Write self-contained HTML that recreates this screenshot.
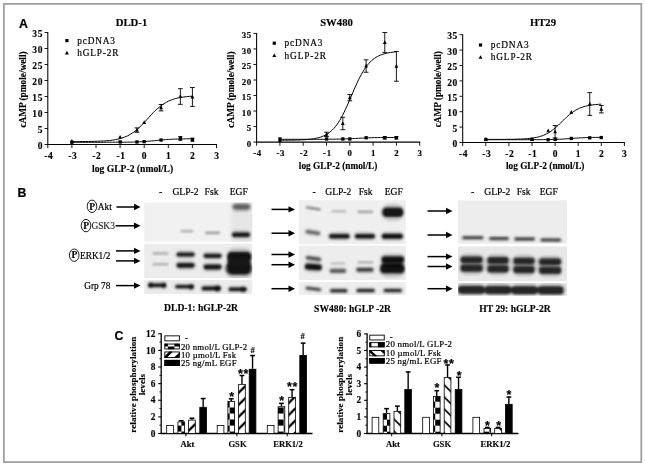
<!DOCTYPE html>
<html lang="en"><head><meta charset="utf-8"><title>Figure</title>
<style>html,body{margin:0;padding:0;background:#fff}svg{display:block}text{font-family:"Liberation Serif",serif;fill:#000}.r{stroke:#000;stroke-width:.2px}.b{font-weight:bold;stroke:#000;stroke-width:.15px}.bs{font-weight:bold;font-family:"Liberation Sans",sans-serif;stroke:#000;stroke-width:.2px}.rs{font-family:"Liberation Sans",sans-serif}</style></head><body>
<svg width="645" height="466" viewBox="0 0 645 466">
<defs><filter id="b1" x="-20%" y="-50%" width="140%" height="200%"><feGaussianBlur stdDeviation="1.3 0.9"/></filter><filter id="b2" x="-20%" y="-50%" width="140%" height="200%"><feGaussianBlur stdDeviation="1.6 1.2"/></filter><filter id="bt" x="-5%" y="-5%" width="110%" height="110%"><feGaussianBlur stdDeviation="0.35"/></filter><pattern id="chkL" x="181.4" y="425.6" width="12.06" height="12.06" patternUnits="userSpaceOnUse"><rect width="12.06" height="12.06" fill="#fff"/><rect x="6.03" y="0" width="6.03" height="6.03" fill="#000"/><rect x="0" y="6.03" width="6.03" height="6.03" fill="#000"/></pattern><pattern id="chkR" x="387" y="419.7" width="12.06" height="12" patternUnits="userSpaceOnUse"><rect width="12.06" height="12" fill="#fff"/><rect x="0" y="0" width="6.03" height="6" fill="#000"/><rect x="6.03" y="6" width="6.03" height="6" fill="#000"/></pattern><pattern id="hatL" x="0" y="4.32" width="12.06" height="12.06" patternUnits="userSpaceOnUse"><rect width="12.06" height="12.06" fill="#fff"/><path d="M-3 3L3 -3M-3 15.06L15.06 -3M9.06 15.06L15.06 9.06" stroke="#000" stroke-width="2.3"/></pattern><pattern id="hatR" x="0" y="1.0" width="12.06" height="12.06" patternUnits="userSpaceOnUse"><rect width="12.06" height="12.06" fill="#fff"/><path d="M-3 9.06L3 15.06M-3 -3L15.06 15.06M9.06 -3L15.06 3" stroke="#000" stroke-width="1.7"/></pattern></defs>
<rect width="645" height="466" fill="#fff"/>
<rect x="3.9" y="3.9" width="637.4" height="458.2" fill="none" stroke="#9b9b9b" stroke-width="1.7"/>
<g filter="url(#bt)">
<text class="bs" x="19.0" y="27.8" font-size="12.3">A</text>
<text class="bs" x="17.6" y="196.7" font-size="12.3">B</text>
<text class="bs" x="114.6" y="339.5" font-size="12.3">C</text>
<path d="M47.80 32.00L47.80 145.00" stroke="#000" stroke-width="1.05" fill="none"/>
<path d="M47.30 144.50L217.00 144.50" stroke="#000" stroke-width="1.05" fill="none"/>
<path d="M44.60 144.50L47.80 144.50" stroke="#000" stroke-width="0.9" fill="none"/>
<text class="b" x="43.0" y="149.2" font-size="9.5" text-anchor="end" letter-spacing="0.6">0</text>
<path d="M44.60 128.50L47.80 128.50" stroke="#000" stroke-width="0.9" fill="none"/>
<text class="b" x="43.0" y="133.2" font-size="9.5" text-anchor="end" letter-spacing="0.6">5</text>
<path d="M44.60 112.50L47.80 112.50" stroke="#000" stroke-width="0.9" fill="none"/>
<text class="b" x="43.0" y="117.2" font-size="9.5" text-anchor="end" letter-spacing="0.6">10</text>
<path d="M44.60 96.50L47.80 96.50" stroke="#000" stroke-width="0.9" fill="none"/>
<text class="b" x="43.0" y="101.2" font-size="9.5" text-anchor="end" letter-spacing="0.6">15</text>
<path d="M44.60 80.50L47.80 80.50" stroke="#000" stroke-width="0.9" fill="none"/>
<text class="b" x="43.0" y="85.2" font-size="9.5" text-anchor="end" letter-spacing="0.6">20</text>
<path d="M44.60 64.50L47.80 64.50" stroke="#000" stroke-width="0.9" fill="none"/>
<text class="b" x="43.0" y="69.2" font-size="9.5" text-anchor="end" letter-spacing="0.6">25</text>
<path d="M44.60 48.50L47.80 48.50" stroke="#000" stroke-width="0.9" fill="none"/>
<text class="b" x="43.0" y="53.2" font-size="9.5" text-anchor="end" letter-spacing="0.6">30</text>
<path d="M44.60 32.50L47.80 32.50" stroke="#000" stroke-width="0.9" fill="none"/>
<text class="b" x="43.0" y="37.2" font-size="9.5" text-anchor="end" letter-spacing="0.6">35</text>
<path d="M47.80 144.50L47.80 148.10" stroke="#000" stroke-width="0.9" fill="none"/>
<text class="b" x="48.7" y="159.1" font-size="9.5" text-anchor="middle" letter-spacing="0.6">-4</text>
<path d="M71.90 144.50L71.90 148.10" stroke="#000" stroke-width="0.9" fill="none"/>
<text class="b" x="72.8" y="159.1" font-size="9.5" text-anchor="middle" letter-spacing="0.6">-3</text>
<path d="M96.00 144.50L96.00 148.10" stroke="#000" stroke-width="0.9" fill="none"/>
<text class="b" x="96.9" y="159.1" font-size="9.5" text-anchor="middle" letter-spacing="0.6">-2</text>
<path d="M120.10 144.50L120.10 148.10" stroke="#000" stroke-width="0.9" fill="none"/>
<text class="b" x="121.0" y="159.1" font-size="9.5" text-anchor="middle" letter-spacing="0.6">-1</text>
<path d="M144.20 144.50L144.20 148.10" stroke="#000" stroke-width="0.9" fill="none"/>
<text class="b" x="144.2" y="159.1" font-size="9.5" text-anchor="middle">0</text>
<path d="M168.30 144.50L168.30 148.10" stroke="#000" stroke-width="0.9" fill="none"/>
<text class="b" x="168.3" y="159.1" font-size="9.5" text-anchor="middle">1</text>
<path d="M192.40 144.50L192.40 148.10" stroke="#000" stroke-width="0.9" fill="none"/>
<text class="b" x="192.4" y="159.1" font-size="9.5" text-anchor="middle">2</text>
<path d="M216.50 144.50L216.50 148.10" stroke="#000" stroke-width="0.9" fill="none"/>
<text class="b" x="216.5" y="159.1" font-size="9.5" text-anchor="middle">3</text>
<text class="b" x="131.5" y="26.3" font-size="10.7" text-anchor="middle">DLD-1</text>
<text class="b" font-size="9.3" text-anchor="middle" transform="translate(25.5,89.5) rotate(-90)">cAMP (pmole/well)</text>
<text class="b" x="132.6" y="171.5" font-size="9.65" text-anchor="middle">log GLP-2 (nmol/L)</text>
<rect x="65.3" y="39.0" width="3.2" height="3.2"/>
<text class="r" x="77.2" y="43.6" font-size="9.3" letter-spacing="0.85">pcDNA3</text>
<path d="M66.9 50.8l2 3.6h-4z"/>
<text class="r" x="77.2" y="56.0" font-size="9.3" letter-spacing="0.85">hGLP-2R</text>
<path d="M71.9 141.6L73.4 141.6L74.9 141.6L76.4 141.6L77.9 141.6L79.4 141.6L80.9 141.5L82.4 141.5L84.0 141.5L85.5 141.5L87.0 141.5L88.5 141.5L90.0 141.4L91.5 141.4L93.0 141.4L94.5 141.3L96.0 141.3L97.5 141.2L99.0 141.2L100.5 141.1L102.0 141.0L103.5 141.0L105.0 140.9L106.5 140.7L108.0 140.6L109.6 140.5L111.1 140.3L112.6 140.1L114.1 139.9L115.6 139.6L117.1 139.3L118.6 139.0L120.1 138.6L121.6 138.1L123.1 137.6L124.6 137.1L126.1 136.5L127.6 135.8L129.1 135.0L130.6 134.1L132.2 133.2L133.7 132.2L135.2 131.0L136.7 129.8L138.2 128.5L139.7 127.1L141.2 125.6L142.7 124.1L144.2 122.5L145.7 120.9L147.2 119.2L148.7 117.6L150.2 115.9L151.7 114.3L153.2 112.7L154.7 111.2L156.2 109.8L157.8 108.4L159.3 107.1L160.8 105.9L162.3 104.8L163.8 103.8L165.3 102.8L166.8 102.0L168.3 101.2L169.8 100.6L171.3 100.0L172.8 99.4L174.3 98.9L175.8 98.5L177.3 98.1L178.8 97.8L180.4 97.5L181.9 97.3L183.4 97.0L184.9 96.8L186.4 96.7L187.9 96.5L189.4 96.4L190.9 96.3L192.4 96.2" stroke="#000" stroke-width="1.0" fill="none"/>
<path d="M71.9 142.3L73.4 142.3L74.9 142.3L76.4 142.3L77.9 142.3L79.4 142.3L80.9 142.3L82.4 142.3L84.0 142.3L85.5 142.3L87.0 142.3L88.5 142.3L90.0 142.3L91.5 142.3L93.0 142.3L94.5 142.3L96.0 142.3L97.5 142.3L99.0 142.3L100.5 142.3L102.0 142.3L103.5 142.3L105.0 142.3L106.5 142.2L108.0 142.2L109.6 142.2L111.1 142.2L112.6 142.2L114.1 142.2L115.6 142.2L117.1 142.2L118.6 142.2L120.1 142.2L121.6 142.2L123.1 142.2L124.6 142.2L126.1 142.2L127.6 142.1L129.1 142.1L130.6 142.1L132.2 142.1L133.7 142.0L135.2 142.0L136.7 141.9L138.2 141.9L139.7 141.8L141.2 141.7L142.7 141.6L144.2 141.6L145.7 141.5L147.2 141.3L148.7 141.2L150.2 141.1L151.7 140.9L153.2 140.8L154.7 140.7L156.2 140.5L157.8 140.3L159.3 140.2L160.8 140.1L162.3 139.9L163.8 139.8L165.3 139.7L166.8 139.5L168.3 139.4L169.8 139.4L171.3 139.3L172.8 139.2L174.3 139.1L175.8 139.1L177.3 139.0L178.8 139.0L180.4 138.9L181.9 138.9L183.4 138.9L184.9 138.9L186.4 138.8L187.9 138.8L189.4 138.8L190.9 138.8L192.4 138.8" stroke="#000" stroke-width="1.0" fill="none"/>
<rect x="70.2" y="140.6" width="3.3" height="3.3"/>
<rect x="118.5" y="140.3" width="3.3" height="3.3"/>
<rect x="135.3" y="140.3" width="3.3" height="3.3"/>
<rect x="142.5" y="140.0" width="3.3" height="3.3"/>
<rect x="159.4" y="138.4" width="3.3" height="3.3"/>
<path d="M180.35 140.34L180.35 136.50" stroke="#000" stroke-width="0.9" fill="none"/>
<path d="M178.35 136.50L182.35 136.50" stroke="#000" stroke-width="0.9" fill="none"/>
<path d="M178.35 140.34L182.35 140.34" stroke="#000" stroke-width="0.9" fill="none"/>
<rect x="178.7" y="136.8" width="3.3" height="3.3"/>
<path d="M192.40 141.30L192.40 138.10" stroke="#000" stroke-width="0.9" fill="none"/>
<path d="M190.40 138.10L194.40 138.10" stroke="#000" stroke-width="0.9" fill="none"/>
<path d="M190.40 141.30L194.40 141.30" stroke="#000" stroke-width="0.9" fill="none"/>
<rect x="190.8" y="138.0" width="3.3" height="3.3"/>
<path d="M71.9 139.1l1.9 3.7h-3.8z"/>
<path d="M120.1 134.9l1.9 3.7h-3.8z"/>
<path d="M136.97 132.34L136.97 127.86" stroke="#000" stroke-width="0.9" fill="none"/>
<path d="M134.57 127.86L139.37 127.86" stroke="#000" stroke-width="0.9" fill="none"/>
<path d="M134.57 132.34L139.37 132.34" stroke="#000" stroke-width="0.9" fill="none"/>
<path d="M137.0 127.9l1.9 3.7h-3.8z"/>
<path d="M144.2 120.2l1.9 3.7h-3.8z"/>
<path d="M161.07 110.90L161.07 104.50" stroke="#000" stroke-width="0.9" fill="none"/>
<path d="M158.67 104.50L163.47 104.50" stroke="#000" stroke-width="0.9" fill="none"/>
<path d="M158.67 110.90L163.47 110.90" stroke="#000" stroke-width="0.9" fill="none"/>
<path d="M161.1 105.5l1.9 3.7h-3.8z"/>
<path d="M180.35 104.34L180.35 88.66" stroke="#000" stroke-width="0.9" fill="none"/>
<path d="M177.95 88.66L182.75 88.66" stroke="#000" stroke-width="0.9" fill="none"/>
<path d="M177.95 104.34L182.75 104.34" stroke="#000" stroke-width="0.9" fill="none"/>
<path d="M180.4 94.3l1.9 3.7h-3.8z"/>
<path d="M192.40 106.42L192.40 87.54" stroke="#000" stroke-width="0.9" fill="none"/>
<path d="M190.00 87.54L194.80 87.54" stroke="#000" stroke-width="0.9" fill="none"/>
<path d="M190.00 106.42L194.80 106.42" stroke="#000" stroke-width="0.9" fill="none"/>
<path d="M192.4 94.8l1.9 3.7h-3.8z"/>
<path d="M256.60 32.92L256.60 142.60" stroke="#000" stroke-width="1.05" fill="none"/>
<path d="M256.10 142.10L420.20 142.10" stroke="#000" stroke-width="1.05" fill="none"/>
<path d="M253.40 142.10L256.60 142.10" stroke="#000" stroke-width="0.9" fill="none"/>
<text class="b" x="251.8" y="146.8" font-size="8.9" text-anchor="end" letter-spacing="0.6">0</text>
<path d="M253.40 126.57L256.60 126.57" stroke="#000" stroke-width="0.9" fill="none"/>
<text class="b" x="251.8" y="131.3" font-size="8.9" text-anchor="end" letter-spacing="0.6">5</text>
<path d="M253.40 111.05L256.60 111.05" stroke="#000" stroke-width="0.9" fill="none"/>
<text class="b" x="251.8" y="115.8" font-size="8.9" text-anchor="end" letter-spacing="0.6">10</text>
<path d="M253.40 95.52L256.60 95.52" stroke="#000" stroke-width="0.9" fill="none"/>
<text class="b" x="251.8" y="100.2" font-size="8.9" text-anchor="end" letter-spacing="0.6">15</text>
<path d="M253.40 80.00L256.60 80.00" stroke="#000" stroke-width="0.9" fill="none"/>
<text class="b" x="251.8" y="84.7" font-size="8.9" text-anchor="end" letter-spacing="0.6">20</text>
<path d="M253.40 64.47L256.60 64.47" stroke="#000" stroke-width="0.9" fill="none"/>
<text class="b" x="251.8" y="69.2" font-size="8.9" text-anchor="end" letter-spacing="0.6">25</text>
<path d="M253.40 48.95L256.60 48.95" stroke="#000" stroke-width="0.9" fill="none"/>
<text class="b" x="251.8" y="53.6" font-size="8.9" text-anchor="end" letter-spacing="0.6">30</text>
<path d="M253.40 33.42L256.60 33.42" stroke="#000" stroke-width="0.9" fill="none"/>
<text class="b" x="251.8" y="38.1" font-size="8.9" text-anchor="end" letter-spacing="0.6">35</text>
<path d="M256.60 142.10L256.60 145.70" stroke="#000" stroke-width="0.9" fill="none"/>
<text class="b" x="257.5" y="155.7" font-size="8.9" text-anchor="middle" letter-spacing="0.6">-4</text>
<path d="M279.90 142.10L279.90 145.70" stroke="#000" stroke-width="0.9" fill="none"/>
<text class="b" x="280.8" y="155.7" font-size="8.9" text-anchor="middle" letter-spacing="0.6">-3</text>
<path d="M303.20 142.10L303.20 145.70" stroke="#000" stroke-width="0.9" fill="none"/>
<text class="b" x="304.1" y="155.7" font-size="8.9" text-anchor="middle" letter-spacing="0.6">-2</text>
<path d="M326.50 142.10L326.50 145.70" stroke="#000" stroke-width="0.9" fill="none"/>
<text class="b" x="327.4" y="155.7" font-size="8.9" text-anchor="middle" letter-spacing="0.6">-1</text>
<path d="M349.80 142.10L349.80 145.70" stroke="#000" stroke-width="0.9" fill="none"/>
<text class="b" x="349.8" y="155.7" font-size="8.9" text-anchor="middle">0</text>
<path d="M373.10 142.10L373.10 145.70" stroke="#000" stroke-width="0.9" fill="none"/>
<text class="b" x="373.1" y="155.7" font-size="8.9" text-anchor="middle">1</text>
<path d="M396.40 142.10L396.40 145.70" stroke="#000" stroke-width="0.9" fill="none"/>
<text class="b" x="396.4" y="155.7" font-size="8.9" text-anchor="middle">2</text>
<path d="M419.70 142.10L419.70 145.70" stroke="#000" stroke-width="0.9" fill="none"/>
<text class="b" x="419.7" y="155.7" font-size="8.9" text-anchor="middle">3</text>
<text class="b" x="336.5" y="26.3" font-size="10.7" text-anchor="middle">SW480</text>
<text class="b" font-size="9.3" text-anchor="middle" transform="translate(234.3,89.6) rotate(-90)">cAMP (pmole/well)</text>
<text class="b" x="338.1" y="168.7" font-size="9.3" text-anchor="middle">log GLP-2 (nmol/L)</text>
<rect x="272.7" y="41.6" width="3.2" height="3.2"/>
<text class="r" x="284.6" y="46.2" font-size="9.3" letter-spacing="0.85">pcDNA3</text>
<path d="M274.3 53.4l2 3.6h-4z"/>
<text class="r" x="284.6" y="58.6" font-size="9.3" letter-spacing="0.85">hGLP-2R</text>
<path d="M279.9 140.2L281.4 140.2L282.8 140.2L284.3 140.2L285.7 140.2L287.2 140.2L288.6 140.2L290.1 140.1L291.6 140.1L293.0 140.1L294.5 140.1L295.9 140.0L297.4 140.0L298.8 140.0L300.3 139.9L301.7 139.8L303.2 139.8L304.7 139.7L306.1 139.6L307.6 139.5L309.0 139.3L310.5 139.2L311.9 139.0L313.4 138.8L314.9 138.5L316.3 138.2L317.8 137.9L319.2 137.5L320.7 137.1L322.1 136.5L323.6 135.9L325.0 135.3L326.5 134.5L328.0 133.5L329.4 132.5L330.9 131.3L332.3 130.0L333.8 128.5L335.2 126.8L336.7 124.9L338.2 122.9L339.6 120.6L341.1 118.1L342.5 115.4L344.0 112.5L345.4 109.5L346.9 106.3L348.3 103.0L349.8 99.7L351.3 96.2L352.7 92.8L354.2 89.4L355.6 86.1L357.1 82.9L358.5 79.8L360.0 76.9L361.5 74.2L362.9 71.7L364.4 69.4L365.8 67.2L367.3 65.3L368.7 63.6L370.2 62.0L371.6 60.6L373.1 59.4L374.6 58.3L376.0 57.3L377.5 56.5L378.9 55.8L380.4 55.1L381.8 54.6L383.3 54.1L384.8 53.7L386.2 53.3L387.7 53.0L389.1 52.7L390.6 52.5L392.0 52.3L393.5 52.1L394.9 51.9L396.4 51.8" stroke="#000" stroke-width="1.0" fill="none"/>
<path d="M279.9 139.3L281.4 139.3L282.8 139.3L284.3 139.3L285.7 139.3L287.2 139.3L288.6 139.3L290.1 139.3L291.6 139.3L293.0 139.3L294.5 139.3L295.9 139.3L297.4 139.3L298.8 139.3L300.3 139.3L301.7 139.3L303.2 139.3L304.7 139.3L306.1 139.3L307.6 139.3L309.0 139.3L310.5 139.3L311.9 139.3L313.4 139.3L314.9 139.3L316.3 139.3L317.8 139.3L319.2 139.3L320.7 139.3L322.1 139.3L323.6 139.3L325.0 139.3L326.5 139.3L328.0 139.2L329.4 139.2L330.9 139.2L332.3 139.2L333.8 139.2L335.2 139.2L336.7 139.1L338.2 139.1L339.6 139.1L341.1 139.1L342.5 139.0L344.0 139.0L345.4 138.9L346.9 138.9L348.3 138.8L349.8 138.7L351.3 138.7L352.7 138.6L354.2 138.5L355.6 138.4L357.1 138.4L358.5 138.3L360.0 138.2L361.5 138.1L362.9 138.1L364.4 138.0L365.8 137.9L367.3 137.9L368.7 137.8L370.2 137.8L371.6 137.7L373.1 137.7L374.6 137.6L376.0 137.6L377.5 137.6L378.9 137.6L380.4 137.5L381.8 137.5L383.3 137.5L384.8 137.5L386.2 137.5L387.7 137.5L389.1 137.5L390.6 137.5L392.0 137.5L393.5 137.5L394.9 137.5L396.4 137.5" stroke="#000" stroke-width="1.0" fill="none"/>
<rect x="278.3" y="137.3" width="3.3" height="3.3"/>
<rect x="324.9" y="137.3" width="3.3" height="3.3"/>
<rect x="341.2" y="137.3" width="3.3" height="3.3"/>
<rect x="348.2" y="137.3" width="3.3" height="3.3"/>
<rect x="364.5" y="136.1" width="3.3" height="3.3"/>
<path d="M384.75 139.00L384.75 136.51" stroke="#000" stroke-width="0.9" fill="none"/>
<path d="M382.75 136.51L386.75 136.51" stroke="#000" stroke-width="0.9" fill="none"/>
<path d="M382.75 139.00L386.75 139.00" stroke="#000" stroke-width="0.9" fill="none"/>
<rect x="383.1" y="136.1" width="3.3" height="3.3"/>
<path d="M396.40 139.00L396.40 136.51" stroke="#000" stroke-width="0.9" fill="none"/>
<path d="M394.40 136.51L398.40 136.51" stroke="#000" stroke-width="0.9" fill="none"/>
<path d="M394.40 139.00L398.40 139.00" stroke="#000" stroke-width="0.9" fill="none"/>
<rect x="394.8" y="136.1" width="3.3" height="3.3"/>
<path d="M279.9 138.3l1.9 3.7h-3.8z"/>
<path d="M326.50 136.51L326.50 132.16" stroke="#000" stroke-width="0.9" fill="none"/>
<path d="M324.10 132.16L328.90 132.16" stroke="#000" stroke-width="0.9" fill="none"/>
<path d="M324.10 136.51L328.90 136.51" stroke="#000" stroke-width="0.9" fill="none"/>
<path d="M326.5 132.1l1.9 3.7h-3.8z"/>
<path d="M342.81 129.68L342.81 117.26" stroke="#000" stroke-width="0.9" fill="none"/>
<path d="M340.41 117.26L345.21 117.26" stroke="#000" stroke-width="0.9" fill="none"/>
<path d="M340.41 129.68L345.21 129.68" stroke="#000" stroke-width="0.9" fill="none"/>
<path d="M342.8 121.3l1.9 3.7h-3.8z"/>
<path d="M349.80 100.80L349.80 94.59" stroke="#000" stroke-width="0.9" fill="none"/>
<path d="M347.40 94.59L352.20 94.59" stroke="#000" stroke-width="0.9" fill="none"/>
<path d="M347.40 100.80L352.20 100.80" stroke="#000" stroke-width="0.9" fill="none"/>
<path d="M349.8 95.5l1.9 3.7h-3.8z"/>
<path d="M366.11 72.24L366.11 59.82" stroke="#000" stroke-width="0.9" fill="none"/>
<path d="M363.71 59.82L368.51 59.82" stroke="#000" stroke-width="0.9" fill="none"/>
<path d="M363.71 72.24L368.51 72.24" stroke="#000" stroke-width="0.9" fill="none"/>
<path d="M366.1 63.8l1.9 3.7h-3.8z"/>
<path d="M384.75 52.37L384.75 32.49" stroke="#000" stroke-width="0.9" fill="none"/>
<path d="M382.35 32.49L387.15 32.49" stroke="#000" stroke-width="0.9" fill="none"/>
<path d="M382.35 52.37L387.15 52.37" stroke="#000" stroke-width="0.9" fill="none"/>
<path d="M384.8 40.2l1.9 3.7h-3.8z"/>
<path d="M396.40 81.24L396.40 51.43" stroke="#000" stroke-width="0.9" fill="none"/>
<path d="M394.00 51.43L398.80 51.43" stroke="#000" stroke-width="0.9" fill="none"/>
<path d="M394.00 81.24L398.80 81.24" stroke="#000" stroke-width="0.9" fill="none"/>
<path d="M396.4 64.1l1.9 3.7h-3.8z"/>
<path d="M462.70 34.20L462.70 143.00" stroke="#000" stroke-width="1.05" fill="none"/>
<path d="M462.20 142.50L624.90 142.50" stroke="#000" stroke-width="1.05" fill="none"/>
<path d="M459.50 142.50L462.70 142.50" stroke="#000" stroke-width="0.9" fill="none"/>
<text class="b" x="457.9" y="147.2" font-size="9.5" text-anchor="end" letter-spacing="0.6">0</text>
<path d="M459.50 127.10L462.70 127.10" stroke="#000" stroke-width="0.9" fill="none"/>
<text class="b" x="457.9" y="131.8" font-size="9.5" text-anchor="end" letter-spacing="0.6">5</text>
<path d="M459.50 111.70L462.70 111.70" stroke="#000" stroke-width="0.9" fill="none"/>
<text class="b" x="457.9" y="116.4" font-size="9.5" text-anchor="end" letter-spacing="0.6">10</text>
<path d="M459.50 96.30L462.70 96.30" stroke="#000" stroke-width="0.9" fill="none"/>
<text class="b" x="457.9" y="101.0" font-size="9.5" text-anchor="end" letter-spacing="0.6">15</text>
<path d="M459.50 80.90L462.70 80.90" stroke="#000" stroke-width="0.9" fill="none"/>
<text class="b" x="457.9" y="85.6" font-size="9.5" text-anchor="end" letter-spacing="0.6">20</text>
<path d="M459.50 65.50L462.70 65.50" stroke="#000" stroke-width="0.9" fill="none"/>
<text class="b" x="457.9" y="70.2" font-size="9.5" text-anchor="end" letter-spacing="0.6">25</text>
<path d="M459.50 50.10L462.70 50.10" stroke="#000" stroke-width="0.9" fill="none"/>
<text class="b" x="457.9" y="54.8" font-size="9.5" text-anchor="end" letter-spacing="0.6">30</text>
<path d="M459.50 34.70L462.70 34.70" stroke="#000" stroke-width="0.9" fill="none"/>
<text class="b" x="457.9" y="39.4" font-size="9.5" text-anchor="end" letter-spacing="0.6">35</text>
<path d="M462.70 142.50L462.70 146.10" stroke="#000" stroke-width="0.9" fill="none"/>
<text class="b" x="463.6" y="156.5" font-size="9.5" text-anchor="middle" letter-spacing="0.6">-4</text>
<path d="M485.80 142.50L485.80 146.10" stroke="#000" stroke-width="0.9" fill="none"/>
<text class="b" x="486.7" y="156.5" font-size="9.5" text-anchor="middle" letter-spacing="0.6">-3</text>
<path d="M508.90 142.50L508.90 146.10" stroke="#000" stroke-width="0.9" fill="none"/>
<text class="b" x="509.8" y="156.5" font-size="9.5" text-anchor="middle" letter-spacing="0.6">-2</text>
<path d="M532.00 142.50L532.00 146.10" stroke="#000" stroke-width="0.9" fill="none"/>
<text class="b" x="532.9" y="156.5" font-size="9.5" text-anchor="middle" letter-spacing="0.6">-1</text>
<path d="M555.10 142.50L555.10 146.10" stroke="#000" stroke-width="0.9" fill="none"/>
<text class="b" x="555.1" y="156.5" font-size="9.5" text-anchor="middle">0</text>
<path d="M578.20 142.50L578.20 146.10" stroke="#000" stroke-width="0.9" fill="none"/>
<text class="b" x="578.2" y="156.5" font-size="9.5" text-anchor="middle">1</text>
<path d="M601.30 142.50L601.30 146.10" stroke="#000" stroke-width="0.9" fill="none"/>
<text class="b" x="601.3" y="156.5" font-size="9.5" text-anchor="middle">2</text>
<path d="M624.40 142.50L624.40 146.10" stroke="#000" stroke-width="0.9" fill="none"/>
<text class="b" x="624.4" y="156.5" font-size="9.5" text-anchor="middle">3</text>
<text class="b" x="543.0" y="26.3" font-size="10.7" text-anchor="middle">HT29</text>
<text class="b" font-size="9.3" text-anchor="middle" transform="translate(441.2,89.2) rotate(-90)">cAMP (pmole/well)</text>
<text class="b" x="545.2" y="169.0" font-size="9.3" text-anchor="middle">log GLP-2 (nmol/L)</text>
<rect x="478.9" y="43.4" width="3.2" height="3.2"/>
<text class="r" x="490.8" y="48.0" font-size="9.3" letter-spacing="0.85">pcDNA3</text>
<path d="M480.5 55.2l2 3.6h-4z"/>
<text class="r" x="490.8" y="60.4" font-size="9.3" letter-spacing="0.85">hGLP-2R</text>
<path d="M485.8 139.4L487.2 139.4L488.7 139.4L490.1 139.4L491.6 139.4L493.0 139.4L494.5 139.4L495.9 139.4L497.4 139.4L498.8 139.4L500.2 139.4L501.7 139.4L503.1 139.4L504.6 139.4L506.0 139.3L507.5 139.3L508.9 139.3L510.3 139.3L511.8 139.3L513.2 139.3L514.7 139.2L516.1 139.2L517.6 139.1L519.0 139.1L520.5 139.0L521.9 139.0L523.3 138.9L524.8 138.8L526.2 138.7L527.7 138.6L529.1 138.5L530.6 138.3L532.0 138.1L533.4 137.9L534.9 137.7L536.3 137.4L537.8 137.1L539.2 136.7L540.7 136.3L542.1 135.8L543.5 135.3L545.0 134.6L546.4 133.9L547.9 133.2L549.3 132.3L550.8 131.4L552.2 130.3L553.7 129.2L555.1 128.0L556.5 126.8L558.0 125.5L559.4 124.1L560.9 122.7L562.3 121.3L563.8 119.9L565.2 118.5L566.6 117.1L568.1 115.8L569.5 114.6L571.0 113.4L572.4 112.4L573.9 111.4L575.3 110.4L576.8 109.6L578.2 108.9L579.6 108.2L581.1 107.6L582.5 107.1L584.0 106.6L585.4 106.2L586.9 105.9L588.3 105.6L589.8 105.3L591.2 105.1L592.6 104.9L594.1 104.7L595.5 104.6L597.0 104.5L598.4 104.3L599.9 104.2L601.3 104.2" stroke="#000" stroke-width="1.0" fill="none"/>
<path d="M485.8 139.7L487.2 139.7L488.7 139.7L490.1 139.7L491.6 139.7L493.0 139.7L494.5 139.7L495.9 139.7L497.4 139.7L498.8 139.7L500.2 139.7L501.7 139.7L503.1 139.7L504.6 139.7L506.0 139.7L507.5 139.7L508.9 139.7L510.3 139.7L511.8 139.7L513.2 139.7L514.7 139.7L516.1 139.7L517.6 139.7L519.0 139.7L520.5 139.7L521.9 139.7L523.3 139.7L524.8 139.7L526.2 139.7L527.7 139.7L529.1 139.7L530.6 139.7L532.0 139.7L533.4 139.7L534.9 139.7L536.3 139.7L537.8 139.7L539.2 139.7L540.7 139.7L542.1 139.7L543.5 139.6L545.0 139.6L546.4 139.6L547.9 139.6L549.3 139.6L550.8 139.5L552.2 139.5L553.7 139.5L555.1 139.4L556.5 139.4L558.0 139.3L559.4 139.2L560.9 139.2L562.3 139.1L563.8 139.0L565.2 138.9L566.6 138.8L568.1 138.7L569.5 138.6L571.0 138.5L572.4 138.4L573.9 138.3L575.3 138.2L576.8 138.1L578.2 138.0L579.6 137.9L581.1 137.8L582.5 137.8L584.0 137.7L585.4 137.6L586.9 137.6L588.3 137.5L589.8 137.5L591.2 137.5L592.6 137.4L594.1 137.4L595.5 137.4L597.0 137.4L598.4 137.4L599.9 137.3L601.3 137.3" stroke="#000" stroke-width="1.0" fill="none"/>
<rect x="484.2" y="137.8" width="3.3" height="3.3"/>
<rect x="530.4" y="137.8" width="3.3" height="3.3"/>
<rect x="546.5" y="138.1" width="3.3" height="3.3"/>
<rect x="553.5" y="137.8" width="3.3" height="3.3"/>
<rect x="569.6" y="136.8" width="3.3" height="3.3"/>
<rect x="588.1" y="136.2" width="3.3" height="3.3"/>
<rect x="599.6" y="135.9" width="3.3" height="3.3"/>
<path d="M485.8 137.2l1.9 3.7h-3.8z"/>
<path d="M532.0 137.2l1.9 3.7h-3.8z"/>
<path d="M548.2 128.6l1.9 3.7h-3.8z"/>
<path d="M555.10 137.88L555.10 125.56" stroke="#000" stroke-width="0.9" fill="none"/>
<path d="M552.70 125.56L557.50 125.56" stroke="#000" stroke-width="0.9" fill="none"/>
<path d="M552.70 137.88L557.50 137.88" stroke="#000" stroke-width="0.9" fill="none"/>
<path d="M555.1 129.5l1.9 3.7h-3.8z"/>
<path d="M571.3 110.1l1.9 3.7h-3.8z"/>
<path d="M589.75 115.40L589.75 92.60" stroke="#000" stroke-width="0.9" fill="none"/>
<path d="M587.35 92.60L592.15 92.60" stroke="#000" stroke-width="0.9" fill="none"/>
<path d="M587.35 115.40L592.15 115.40" stroke="#000" stroke-width="0.9" fill="none"/>
<path d="M589.8 101.8l1.9 3.7h-3.8z"/>
<path d="M601.30 112.93L601.30 105.54" stroke="#000" stroke-width="0.9" fill="none"/>
<path d="M598.90 105.54L603.70 105.54" stroke="#000" stroke-width="0.9" fill="none"/>
<path d="M598.90 112.93L603.70 112.93" stroke="#000" stroke-width="0.9" fill="none"/>
<path d="M601.3 107.0l1.9 3.7h-3.8z"/>
<ellipse cx="92" cy="206.3" rx="4.8" ry="6.2" fill="none" stroke="#000" stroke-width="0.9"/>
<text class="b" x="92.2" y="209.5" font-size="9.6" text-anchor="middle">P</text>
<text class="r" x="97.7" y="209.6" font-size="9.4">Akt</text>
<ellipse cx="86" cy="225.6" rx="4.8" ry="6.2" fill="none" stroke="#000" stroke-width="0.9"/>
<text class="b" x="86.2" y="228.8" font-size="9.6" text-anchor="middle">P</text>
<text class="r" x="91.4" y="229.0" font-size="9.4" fill="#666" style="stroke:#666">GSK3</text>
<ellipse cx="74.2" cy="255.2" rx="4.8" ry="6.2" fill="none" stroke="#000" stroke-width="0.9"/>
<text class="b" x="74.4" y="258.4" font-size="9.6" text-anchor="middle">P</text>
<text class="r" x="80.0" y="258.6" font-size="9.3">ERK1/2</text>
<text class="r" x="84.3" y="288.7" font-size="9.3">Grp 78</text>
<path d="M116.50 207.00L136.50 207.00" stroke="#000" stroke-width="1.5" fill="none"/>
<path d="M140.5 207.0l-6.5 -3.2v6.4z"/>
<path d="M115.50 225.80L136.50 225.80" stroke="#000" stroke-width="1.5" fill="none"/>
<path d="M140.5 225.8l-6.5 -3.2v6.4z"/>
<path d="M116.00 250.90L136.50 250.90" stroke="#000" stroke-width="1.5" fill="none"/>
<path d="M140.5 250.9l-6.5 -3.2v6.4z"/>
<path d="M116.00 260.90L136.50 260.90" stroke="#000" stroke-width="1.5" fill="none"/>
<path d="M140.5 260.9l-6.5 -3.2v6.4z"/>
<path d="M116.00 285.60L136.50 285.60" stroke="#000" stroke-width="1.5" fill="none"/>
<path d="M140.5 285.6l-6.5 -3.2v6.4z"/>
<path d="M271.50 209.40L291.00 209.40" stroke="#000" stroke-width="1.5" fill="none"/>
<path d="M295.0 209.4l-6.5 -3.2v6.4z"/>
<path d="M271.50 233.20L291.00 233.20" stroke="#000" stroke-width="1.5" fill="none"/>
<path d="M295.0 233.2l-6.5 -3.2v6.4z"/>
<path d="M271.50 254.50L291.00 254.50" stroke="#000" stroke-width="1.5" fill="none"/>
<path d="M295.0 254.5l-6.5 -3.2v6.4z"/>
<path d="M271.50 264.70L291.00 264.70" stroke="#000" stroke-width="1.5" fill="none"/>
<path d="M295.0 264.7l-6.5 -3.2v6.4z"/>
<path d="M271.50 288.70L291.00 288.70" stroke="#000" stroke-width="1.5" fill="none"/>
<path d="M295.0 288.7l-6.5 -3.2v6.4z"/>
<path d="M427.50 211.00L448.50 211.00" stroke="#000" stroke-width="1.5" fill="none"/>
<path d="M452.5 211.0l-6.5 -3.2v6.4z"/>
<path d="M427.50 235.00L448.50 235.00" stroke="#000" stroke-width="1.5" fill="none"/>
<path d="M452.5 235.0l-6.5 -3.2v6.4z"/>
<path d="M427.50 256.60L448.50 256.60" stroke="#000" stroke-width="1.5" fill="none"/>
<path d="M452.5 256.6l-6.5 -3.2v6.4z"/>
<path d="M427.50 266.50L448.50 266.50" stroke="#000" stroke-width="1.5" fill="none"/>
<path d="M452.5 266.5l-6.5 -3.2v6.4z"/>
<path d="M427.50 288.70L448.50 288.70" stroke="#000" stroke-width="1.5" fill="none"/>
<path d="M452.5 288.7l-6.5 -3.2v6.4z"/>
<text class="r" x="160.6" y="194.8" font-size="9.6" text-anchor="middle">-</text>
<text class="r" x="185.5" y="194.8" font-size="9.6" text-anchor="middle">GLP-2</text>
<text class="r" x="211.5" y="194.8" font-size="9.6" text-anchor="middle">Fsk</text>
<text class="r" x="238.8" y="194.8" font-size="9.6" text-anchor="middle">EGF</text>
<text class="r" x="314.0" y="195.0" font-size="9.6" text-anchor="middle">-</text>
<text class="r" x="338.3" y="195.0" font-size="9.6" text-anchor="middle">GLP-2</text>
<text class="r" x="365.6" y="195.0" font-size="9.6" text-anchor="middle">Fsk</text>
<text class="r" x="393.8" y="195.0" font-size="9.6" text-anchor="middle">EGF</text>
<text class="r" x="472.6" y="195.0" font-size="9.6" text-anchor="middle">-</text>
<text class="r" x="497.3" y="195.0" font-size="9.6" text-anchor="middle">GLP-2</text>
<text class="r" x="523.6" y="195.0" font-size="9.6" text-anchor="middle">Fsk</text>
<text class="r" x="548.8" y="195.0" font-size="9.6" text-anchor="middle">EGF</text>
<text class="b" x="201.0" y="310.5" font-size="9.6" text-anchor="middle">DLD-1: hGLP-2R</text>
<text class="b" x="352.5" y="312.0" font-size="9.6" text-anchor="middle">SW480: hGLP -2R</text>
<text class="b" x="515.0" y="312.0" font-size="9.6" text-anchor="middle">HT 29: hGLP-2R</text>
</g>
<clipPath id="c1"><rect x="144.3" y="202.5" width="108" height="39.2"/></clipPath>
<rect x="144.3" y="202.5" width="108" height="39.2" fill="#f1f1f1"/>
<g clip-path="url(#c1)">
<rect x="231" y="200" width="22" height="44" fill="#e6e6e6" filter="url(#b2)"/>
<rect x="231.9" y="201.6" width="19.0" height="10.3" rx="5.2" fill="#000" opacity="0.16" filter="url(#b2)"/>
<rect x="232.9" y="204.2" width="17" height="5.2" rx="2.6" fill="#000" opacity="0.5" filter="url(#b2)"/>
<rect x="180.5" y="229.8" width="13" height="2.6" rx="1.3" fill="#000" opacity="0.25" filter="url(#b1)"/>
<rect x="205.1" y="231.4" width="15" height="2.8" rx="1.4" fill="#000" opacity="0.33" filter="url(#b1)"/>
<rect x="230.9" y="230.0" width="20.2" height="9.3" rx="4.7" fill="#000" opacity="0.16" filter="url(#b2)"/>
<rect x="232.0" y="232.4" width="18" height="4.6" rx="2.3" fill="#000" opacity="0.88" filter="url(#b1)"/>
</g>
<clipPath id="c2"><rect x="144.3" y="243.7" width="108" height="34.4"/></clipPath>
<rect x="144.3" y="243.7" width="108" height="34.4" fill="#ececec"/>
<g clip-path="url(#c2)">
<rect x="152.5" y="252.1" width="16" height="2.6" rx="1.3" fill="#000" opacity="0.25" filter="url(#b1)"/>
<rect x="152.5" y="262.9" width="16" height="2.6" rx="1.3" fill="#000" opacity="0.25" filter="url(#b1)"/>
<rect x="175.5" y="250.2" width="20.2" height="8.6" rx="4.3" fill="#000" opacity="0.16" filter="url(#b2)"/>
<rect x="176.6" y="252.4" width="18" height="4.2" rx="2.1" fill="#000" opacity="0.85" filter="url(#b1)"/>
<rect x="175.5" y="260.5" width="20.2" height="9.7" rx="4.8" fill="#000" opacity="0.16" filter="url(#b2)"/>
<rect x="176.6" y="262.9" width="18" height="4.8" rx="2.4" fill="#000" opacity="0.88" filter="url(#b1)"/>
<rect x="202.5" y="251.5" width="20.2" height="8.6" rx="4.3" fill="#000" opacity="0.16" filter="url(#b2)"/>
<rect x="203.6" y="253.7" width="18" height="4.2" rx="2.1" fill="#000" opacity="0.85" filter="url(#b1)"/>
<rect x="202.5" y="262.2" width="20.2" height="9.7" rx="4.8" fill="#000" opacity="0.16" filter="url(#b2)"/>
<rect x="203.6" y="264.6" width="18" height="4.8" rx="2.4" fill="#000" opacity="0.88" filter="url(#b1)"/>
<rect x="225.9" y="247.7" width="26.9" height="17.6" rx="8.8" fill="#000" opacity="0.16" filter="url(#b2)"/>
<rect x="227.3" y="251.8" width="24" height="9.5" rx="4.3" fill="#151515" filter="url(#b1)"/>
<rect x="224.7" y="257.1" width="28.6" height="22.8" rx="11.4" fill="#000" opacity="0.16" filter="url(#b2)"/>
<rect x="226.2" y="262.2" width="25.5" height="12.5" rx="5.6" fill="#151515" filter="url(#b2)"/>
<rect x="226.7" y="252.8" width="24.6" height="18.5" rx="9.2" fill="#000" opacity="0.16" filter="url(#b2)"/>
<rect x="228.0" y="257.0" width="22" height="10" rx="4.5" fill="#151515" filter="url(#b1)"/>
</g>
<clipPath id="c3"><rect x="144.3" y="280" width="108" height="14"/></clipPath>
<rect x="144.3" y="280" width="108" height="14" fill="#ebebeb"/>
<g clip-path="url(#c3)">
<rect x="147.4" y="281.6" width="19.6" height="7.1" rx="3.6" fill="#000" opacity="0.16" filter="url(#b2)"/>
<rect x="148.4" y="283.6" width="17.5" height="3.3" rx="1.6" fill="#000" opacity="0.88" filter="url(#b1)"/>
<rect x="174.3" y="282.9" width="20.7" height="7.1" rx="3.6" fill="#000" opacity="0.16" filter="url(#b2)"/>
<rect x="175.4" y="284.9" width="18.5" height="3.3" rx="1.6" fill="#000" opacity="0.88" filter="url(#b1)"/>
<rect x="200.6" y="284.6" width="21.3" height="7.6" rx="3.8" fill="#000" opacity="0.16" filter="url(#b2)"/>
<rect x="201.7" y="286.6" width="19" height="3.6" rx="1.8" fill="#000" opacity="0.9" filter="url(#b1)"/>
<rect x="227.6" y="285.7" width="20.2" height="7.3" rx="3.6" fill="#000" opacity="0.16" filter="url(#b2)"/>
<rect x="228.7" y="287.6" width="18" height="3.4" rx="1.7" fill="#000" opacity="0.88" filter="url(#b1)"/>
<rect x="148.3" y="280.9" width="4.5" height="8.3" rx="4.2" fill="#000" opacity="0.16" filter="url(#b2)"/>
<rect x="148.5" y="283.0" width="4" height="4" rx="2.0" fill="#000" opacity="0.5" filter="url(#b1)"/>
<rect x="161.8" y="281.3" width="4.5" height="8.6" rx="4.3" fill="#000" opacity="0.16" filter="url(#b2)"/>
<rect x="162.0" y="283.5" width="4" height="4.2" rx="2.1" fill="#000" opacity="0.5" filter="url(#b1)"/>
<rect x="188.8" y="282.5" width="4.5" height="9.0" rx="4.5" fill="#000" opacity="0.16" filter="url(#b2)"/>
<rect x="189.0" y="284.8" width="4" height="4.4" rx="2.2" fill="#000" opacity="0.5" filter="url(#b1)"/>
<rect x="214.7" y="283.8" width="5.6" height="9.7" rx="4.8" fill="#000" opacity="0.16" filter="url(#b2)"/>
<rect x="215.0" y="286.2" width="5" height="4.8" rx="2.4" fill="#000" opacity="0.6" filter="url(#b1)"/>
<rect x="240.8" y="285.1" width="4.5" height="9.0" rx="4.5" fill="#000" opacity="0.16" filter="url(#b2)"/>
<rect x="241.0" y="287.4" width="4" height="4.4" rx="2.2" fill="#000" opacity="0.5" filter="url(#b1)"/>
</g>
<clipPath id="c4"><rect x="298.8" y="200.2" width="107" height="44"/></clipPath>
<rect x="298.8" y="200.2" width="107" height="44" fill="#efefef"/>
<g clip-path="url(#c4)">
<rect x="305.8" y="207.1" width="15" height="2.6" rx="1.3" fill="#000" opacity="0.4" transform="rotate(9 313.3 208.4)" filter="url(#b1)"/>
<rect x="331.3" y="209.9" width="15" height="2.6" rx="1.3" fill="#000" opacity="0.22" filter="url(#b1)"/>
<rect x="357.3" y="210.4" width="16" height="2.8" rx="1.4" fill="#000" opacity="0.3" filter="url(#b1)"/>
<rect x="381.0" y="203.5" width="23.5" height="17.6" rx="8.8" fill="#000" opacity="0.16" filter="url(#b2)"/>
<rect x="382.3" y="207.6" width="21" height="9.5" rx="4.3" fill="#141414" filter="url(#b1)"/>
<rect x="304.7" y="229.2" width="16.2" height="6.6" rx="3.3" fill="#000" opacity="0.16" transform="rotate(9 312.8 232.5)" filter="url(#b2)"/>
<rect x="305.6" y="231.0" width="14.5" height="3" rx="1.5" fill="#000" opacity="0.5" transform="rotate(9 312.8 232.5)" filter="url(#b1)"/>
<rect x="327.8" y="231.5" width="23.0" height="9.3" rx="4.7" fill="#000" opacity="0.16" filter="url(#b2)"/>
<rect x="329.1" y="233.9" width="20.5" height="4.6" rx="2.3" fill="#000" opacity="0.88" filter="url(#b1)"/>
<rect x="353.7" y="231.5" width="22.4" height="9.3" rx="4.7" fill="#000" opacity="0.16" filter="url(#b2)"/>
<rect x="354.9" y="233.9" width="20" height="4.6" rx="2.3" fill="#000" opacity="0.88" filter="url(#b1)"/>
<rect x="380.5" y="231.2" width="23.5" height="10.0" rx="5.0" fill="#000" opacity="0.16" filter="url(#b2)"/>
<rect x="381.8" y="233.7" width="21" height="5" rx="2.5" fill="#000" opacity="0.92" filter="url(#b1)"/>
</g>
<clipPath id="c5"><rect x="298.8" y="245.6" width="107" height="34.4"/></clipPath>
<rect x="298.8" y="245.6" width="107" height="34.4" fill="#ededed"/>
<g clip-path="url(#c5)">
<rect x="305.1" y="255.3" width="16.8" height="6.6" rx="3.3" fill="#000" opacity="0.16" transform="rotate(8 313.5 258.6)" filter="url(#b2)"/>
<rect x="306.0" y="257.1" width="15" height="3" rx="1.5" fill="#000" opacity="0.62" transform="rotate(8 313.5 258.6)" filter="url(#b1)"/>
<rect x="303.8" y="261.1" width="19.0" height="11.7" rx="5.8" fill="#000" opacity="0.16" transform="rotate(4 313.3 267)" filter="url(#b2)"/>
<rect x="304.8" y="264.0" width="17" height="6" rx="3.0" fill="#000" opacity="0.9" transform="rotate(4 313.3 267)" filter="url(#b1)"/>
<rect x="330.4" y="262.2" width="15" height="2.3" rx="1.1" fill="#000" opacity="0.2" filter="url(#b1)"/>
<rect x="328.9" y="267.2" width="17.9" height="7.1" rx="3.6" fill="#000" opacity="0.16" filter="url(#b2)"/>
<rect x="329.9" y="269.2" width="16" height="3.3" rx="1.6" fill="#000" opacity="0.6" filter="url(#b1)"/>
<rect x="357.3" y="261.2" width="16" height="2.3" rx="1.1" fill="#000" opacity="0.28" filter="url(#b1)"/>
<rect x="355.4" y="266.2" width="19.0" height="7.5" rx="3.7" fill="#000" opacity="0.16" filter="url(#b2)"/>
<rect x="356.4" y="268.1" width="17" height="3.5" rx="1.8" fill="#000" opacity="0.7" filter="url(#b1)"/>
<rect x="380.2" y="253.3" width="25.2" height="12.4" rx="6.2" fill="#000" opacity="0.16" filter="url(#b2)"/>
<rect x="381.6" y="256.3" width="22.5" height="6.4" rx="3.0" fill="#141414" filter="url(#b1)"/>
<rect x="378.6" y="259.9" width="27.4" height="17.8" rx="8.9" fill="#000" opacity="0.16" filter="url(#b2)"/>
<rect x="380.1" y="264.0" width="24.5" height="9.6" rx="4.3" fill="#141414" filter="url(#b1)"/>
<rect x="381.3" y="258.1" width="22.4" height="11.7" rx="5.8" fill="#000" opacity="0.16" filter="url(#b2)"/>
<rect x="382.5" y="261.0" width="20" height="6" rx="3.0" fill="#000" opacity="0.6" filter="url(#b1)"/>
</g>
<clipPath id="c6"><rect x="298.8" y="282" width="107" height="13"/></clipPath>
<rect x="298.8" y="282" width="107" height="13" fill="#ededed"/>
<g clip-path="url(#c6)">
<rect x="304.9" y="286.1" width="16.8" height="5.6" rx="2.8" fill="#000" opacity="0.16" transform="rotate(7 313.3 288.9)" filter="url(#b2)"/>
<rect x="305.8" y="287.7" width="15" height="2.4" rx="1.2" fill="#000" opacity="0.75" transform="rotate(7 313.3 288.9)" filter="url(#b1)"/>
<rect x="329.2" y="287.5" width="19.0" height="6.6" rx="3.3" fill="#000" opacity="0.16" filter="url(#b2)"/>
<rect x="330.2" y="289.3" width="17" height="3" rx="1.5" fill="#000" opacity="0.8" filter="url(#b1)"/>
<rect x="355.5" y="287.3" width="20.2" height="6.6" rx="3.3" fill="#000" opacity="0.16" filter="url(#b2)"/>
<rect x="356.6" y="289.1" width="18" height="3" rx="1.5" fill="#000" opacity="0.82" filter="url(#b1)"/>
<rect x="382.7" y="287.3" width="20.2" height="6.6" rx="3.3" fill="#000" opacity="0.16" filter="url(#b2)"/>
<rect x="383.8" y="289.1" width="18" height="3" rx="1.5" fill="#000" opacity="0.8" filter="url(#b1)"/>
</g>
<clipPath id="c7"><rect x="458" y="200.4" width="109" height="43.3"/></clipPath>
<rect x="458" y="200.4" width="109" height="43.3" fill="#ededed"/>
<g clip-path="url(#c7)">
<rect x="461.3" y="234.8" width="23.0" height="5.8" rx="2.9" fill="#000" opacity="0.16" filter="url(#b2)"/>
<rect x="462.6" y="236.4" width="20.5" height="2.5" rx="1.2" fill="#000" opacity="0.72" filter="url(#b1)"/>
<rect x="488.4" y="235.7" width="21.3" height="5.8" rx="2.9" fill="#000" opacity="0.16" filter="url(#b2)"/>
<rect x="489.5" y="237.3" width="19" height="2.5" rx="1.2" fill="#000" opacity="0.72" filter="url(#b1)"/>
<rect x="513.4" y="236.0" width="22.4" height="5.9" rx="3.0" fill="#000" opacity="0.16" filter="url(#b2)"/>
<rect x="514.6" y="237.7" width="20" height="2.6" rx="1.3" fill="#000" opacity="0.75" filter="url(#b1)"/>
<rect x="539.6" y="237.1" width="22.4" height="5.8" rx="2.9" fill="#000" opacity="0.16" filter="url(#b2)"/>
<rect x="540.8" y="238.8" width="20" height="2.5" rx="1.2" fill="#000" opacity="0.7" filter="url(#b1)"/>
</g>
<clipPath id="c8"><rect x="458" y="246.3" width="109" height="34.9"/></clipPath>
<rect x="458" y="246.3" width="109" height="34.9" fill="#e8e8e8"/>
<g clip-path="url(#c8)">
<rect x="462.0" y="258.3" width="96" height="13" rx="5.9" fill="#cfcfcf" filter="url(#b2)"/>
<rect x="459.2" y="253.4" width="24.6" height="12.7" rx="6.4" fill="#000" opacity="0.16" filter="url(#b2)"/>
<rect x="460.5" y="256.5" width="22" height="6.6" rx="3.0" fill="#262626" filter="url(#b1)"/>
<rect x="459.2" y="261.3" width="24.6" height="13.7" rx="6.9" fill="#000" opacity="0.16" filter="url(#b2)"/>
<rect x="460.5" y="264.6" width="22" height="7.2" rx="3.0" fill="#262626" filter="url(#b1)"/>
<rect x="486.2" y="254.0" width="23.5" height="12.7" rx="6.4" fill="#000" opacity="0.16" filter="url(#b2)"/>
<rect x="487.5" y="257.1" width="21" height="6.6" rx="3.0" fill="#262626" filter="url(#b1)"/>
<rect x="486.2" y="261.9" width="23.5" height="13.7" rx="6.9" fill="#000" opacity="0.16" filter="url(#b2)"/>
<rect x="487.5" y="265.2" width="21" height="7.2" rx="3.0" fill="#262626" filter="url(#b1)"/>
<rect x="512.2" y="254.6" width="23.5" height="12.7" rx="6.4" fill="#000" opacity="0.16" filter="url(#b2)"/>
<rect x="513.5" y="257.7" width="21" height="6.6" rx="3.0" fill="#262626" filter="url(#b1)"/>
<rect x="512.2" y="262.7" width="23.5" height="13.7" rx="6.9" fill="#000" opacity="0.16" filter="url(#b2)"/>
<rect x="513.5" y="266.0" width="21" height="7.2" rx="3.0" fill="#262626" filter="url(#b1)"/>
<rect x="537.9" y="255.4" width="24.6" height="12.7" rx="6.4" fill="#000" opacity="0.16" filter="url(#b2)"/>
<rect x="539.2" y="258.5" width="22" height="6.6" rx="3.0" fill="#262626" filter="url(#b1)"/>
<rect x="537.9" y="263.5" width="24.6" height="13.7" rx="6.9" fill="#000" opacity="0.16" filter="url(#b2)"/>
<rect x="539.2" y="266.8" width="22" height="7.2" rx="3.0" fill="#262626" filter="url(#b1)"/>
</g>
<clipPath id="c9"><rect x="458" y="283.1" width="109" height="12.6"/></clipPath>
<rect x="458" y="283.1" width="109" height="12.6" fill="#e2e2e2"/>
<g clip-path="url(#c9)">
<rect x="461.0" y="287.5" width="100" height="5" rx="2.5" fill="#3a3a3a" filter="url(#b1)"/>
<rect x="456.4" y="282.6" width="29.1" height="14.4" rx="7.2" fill="#000" opacity="0.16" filter="url(#b2)"/>
<rect x="458.0" y="286.0" width="26" height="7.6" rx="3.0" fill="#262626" filter="url(#b1)"/>
<rect x="484.0" y="282.8" width="28.0" height="14.4" rx="7.2" fill="#000" opacity="0.16" filter="url(#b2)"/>
<rect x="485.5" y="286.2" width="25" height="7.6" rx="3.0" fill="#262626" filter="url(#b1)"/>
<rect x="510.5" y="283.0" width="28.0" height="14.4" rx="7.2" fill="#000" opacity="0.16" filter="url(#b2)"/>
<rect x="512.0" y="286.4" width="25" height="7.6" rx="3.0" fill="#262626" filter="url(#b1)"/>
<rect x="537.0" y="283.2" width="28.0" height="14.4" rx="7.2" fill="#000" opacity="0.16" filter="url(#b2)"/>
<rect x="538.5" y="286.6" width="25" height="7.6" rx="3.0" fill="#262626" filter="url(#b1)"/>
</g>
<g filter="url(#bt)">
<path d="M161.20 333.18L161.20 434.10" stroke="#000" stroke-width="1.3" fill="none"/>
<path d="M160.60 433.50L312.50 433.50" stroke="#000" stroke-width="1.3" fill="none"/>
<path d="M158.20 433.50L161.20 433.50" stroke="#000" stroke-width="1.1" fill="none"/>
<text class="b" x="155.4" y="436.6" font-size="9.4" text-anchor="end" style="stroke:#000;stroke-width:.15px">0</text>
<path d="M159.40 425.19L161.20 425.19" stroke="#000" stroke-width="0.9" fill="none"/>
<path d="M158.20 416.88L161.20 416.88" stroke="#000" stroke-width="1.1" fill="none"/>
<text class="b" x="155.4" y="420.0" font-size="9.4" text-anchor="end" style="stroke:#000;stroke-width:.15px">2</text>
<path d="M159.40 408.57L161.20 408.57" stroke="#000" stroke-width="0.9" fill="none"/>
<path d="M158.20 400.26L161.20 400.26" stroke="#000" stroke-width="1.1" fill="none"/>
<text class="b" x="155.4" y="403.4" font-size="9.4" text-anchor="end" style="stroke:#000;stroke-width:.15px">4</text>
<path d="M159.40 391.95L161.20 391.95" stroke="#000" stroke-width="0.9" fill="none"/>
<path d="M158.20 383.64L161.20 383.64" stroke="#000" stroke-width="1.1" fill="none"/>
<text class="b" x="155.4" y="386.7" font-size="9.4" text-anchor="end" style="stroke:#000;stroke-width:.15px">6</text>
<path d="M159.40 375.33L161.20 375.33" stroke="#000" stroke-width="0.9" fill="none"/>
<path d="M158.20 367.02L161.20 367.02" stroke="#000" stroke-width="1.1" fill="none"/>
<text class="b" x="155.4" y="370.1" font-size="9.4" text-anchor="end" style="stroke:#000;stroke-width:.15px">8</text>
<path d="M159.40 358.71L161.20 358.71" stroke="#000" stroke-width="0.9" fill="none"/>
<path d="M158.20 350.40L161.20 350.40" stroke="#000" stroke-width="1.1" fill="none"/>
<text class="b" x="155.4" y="353.5" font-size="9.4" text-anchor="end" style="stroke:#000;stroke-width:.15px">10</text>
<path d="M159.40 342.09L161.20 342.09" stroke="#000" stroke-width="0.9" fill="none"/>
<path d="M158.20 333.78L161.20 333.78" stroke="#000" stroke-width="1.1" fill="none"/>
<text class="b" x="155.4" y="336.9" font-size="9.4" text-anchor="end" style="stroke:#000;stroke-width:.15px">12</text>
<path d="M185.90 433.50L185.90 436.30" stroke="#000" stroke-width="1.0" fill="none"/>
<path d="M236.90 433.50L236.90 436.30" stroke="#000" stroke-width="1.0" fill="none"/>
<path d="M287.20 433.50L287.20 436.30" stroke="#000" stroke-width="1.0" fill="none"/>
<rect x="166.70" y="425.59" width="6.70" height="7.91" fill="#fff" stroke="#000" stroke-width="0.8"/>
<path d="M181.25 421.53L181.25 420.54" stroke="#000" stroke-width="1.4" fill="none"/>
<path d="M178.85 420.74L183.65 420.74" stroke="#000" stroke-width="1.5" fill="none"/>
<rect x="177.90" y="421.93" width="6.70" height="11.57" fill="url(#chkL)" stroke="#000" stroke-width="0.8"/>
<path d="M191.95 419.71L191.95 418.04" stroke="#000" stroke-width="1.4" fill="none"/>
<path d="M189.55 418.24L194.35 418.24" stroke="#000" stroke-width="1.5" fill="none"/>
<rect x="188.60" y="420.11" width="6.70" height="13.39" fill="url(#hatL)" stroke="#000" stroke-width="0.8"/>
<path d="M203.15 406.91L203.15 398.35" stroke="#000" stroke-width="1.4" fill="none"/>
<path d="M200.75 398.55L205.55 398.55" stroke="#000" stroke-width="1.5" fill="none"/>
<rect x="199.80" y="407.31" width="6.70" height="26.19" fill="#000" stroke="#000" stroke-width="0.8"/>
<rect x="217.20" y="425.59" width="6.70" height="7.91" fill="#fff" stroke="#000" stroke-width="0.8"/>
<path d="M231.25 400.92L231.25 398.60" stroke="#000" stroke-width="1.4" fill="none"/>
<path d="M228.85 398.80L233.65 398.80" stroke="#000" stroke-width="1.5" fill="none"/>
<rect x="227.90" y="401.32" width="6.70" height="32.18" fill="url(#chkL)" stroke="#000" stroke-width="0.8"/>
<path d="M241.95 383.97L241.95 375.33" stroke="#000" stroke-width="1.4" fill="none"/>
<path d="M239.55 375.53L244.35 375.53" stroke="#000" stroke-width="1.5" fill="none"/>
<rect x="238.60" y="384.37" width="6.70" height="49.13" fill="url(#hatL)" stroke="#000" stroke-width="0.8"/>
<path d="M252.55 368.85L252.55 355.39" stroke="#000" stroke-width="1.4" fill="none"/>
<path d="M250.15 355.59L254.95 355.59" stroke="#000" stroke-width="1.5" fill="none"/>
<rect x="249.20" y="369.25" width="6.70" height="64.25" fill="#000" stroke="#000" stroke-width="0.8"/>
<rect x="267.30" y="425.59" width="6.70" height="7.91" fill="#fff" stroke="#000" stroke-width="0.8"/>
<path d="M281.45 406.33L281.45 403.17" stroke="#000" stroke-width="1.4" fill="none"/>
<path d="M279.05 403.37L283.85 403.37" stroke="#000" stroke-width="1.5" fill="none"/>
<rect x="278.10" y="406.73" width="6.70" height="26.77" fill="url(#chkL)" stroke="#000" stroke-width="0.8"/>
<path d="M292.05 396.94L292.05 389.46" stroke="#000" stroke-width="1.4" fill="none"/>
<path d="M289.65 389.66L294.45 389.66" stroke="#000" stroke-width="1.5" fill="none"/>
<rect x="288.70" y="397.34" width="6.70" height="36.16" fill="url(#hatL)" stroke="#000" stroke-width="0.8"/>
<path d="M303.15 354.97L303.15 342.92" stroke="#000" stroke-width="1.4" fill="none"/>
<path d="M300.75 343.12L305.55 343.12" stroke="#000" stroke-width="1.5" fill="none"/>
<rect x="299.80" y="355.37" width="6.70" height="78.13" fill="#000" stroke="#000" stroke-width="0.8"/>
<text class="b" x="187.5" y="446.5" font-size="8.6" text-anchor="middle">Akt</text>
<text class="b" x="237.5" y="446.5" font-size="8.6" text-anchor="middle" fill="#505050" style="stroke:#505050">GSK</text>
<text class="b" x="288.0" y="446.5" font-size="8.6" text-anchor="middle">ERK1/2</text>
<clipPath id="c10"><rect x="164.40" y="335.40" width="15.4" height="5.90"/></clipPath>
<rect x="164.40" y="335.40" width="15.4" height="5.90" fill="#fff"/>
<rect x="164.85" y="335.85" width="14.5" height="5.00" fill="none" stroke="#000" stroke-width="0.9"/>
<text class="r" x="184.9" y="341.1" font-size="8.8">-</text>
<clipPath id="c11"><rect x="164.40" y="343.60" width="15.4" height="5.80"/></clipPath>
<rect x="164.40" y="343.60" width="15.4" height="5.80" fill="#fff"/>
<g clip-path="url(#c11)"><path d="M164.4 343.6h3.5v3h-3.5zM174.4 343.6h5.6v3h-5.6zM167.9 346.6h6.5v3h-6.5z"/></g>
<rect x="164.85" y="344.05" width="14.5" height="4.90" fill="none" stroke="#000" stroke-width="0.9"/>
<text class="r" x="180.9" y="349.5" font-size="8.8" letter-spacing="0.25">20 nmol/L GLP-2</text>
<clipPath id="c12"><rect x="164.40" y="351.50" width="15.4" height="6.50"/></clipPath>
<rect x="164.40" y="351.50" width="15.4" height="6.50" fill="#fff"/>
<g clip-path="url(#c12)"><path d="M163.6 359L171.7 351M174.3 359L181 352.8" stroke="#000" stroke-width="2.6"/></g>
<rect x="164.85" y="351.95" width="14.5" height="5.60" fill="none" stroke="#000" stroke-width="0.9"/>
<text class="r" x="180.9" y="358.1" font-size="8.8" letter-spacing="0.25">10 µmol/L Fsk</text>
<clipPath id="c13"><rect x="164.40" y="359.90" width="15.4" height="6.10"/></clipPath>
<rect x="164.40" y="359.90" width="15.4" height="6.10" fill="#000"/>
<rect x="164.85" y="360.35" width="14.5" height="5.20" fill="none" stroke="#000" stroke-width="0.9"/>
<text class="r" x="180.9" y="366.1" font-size="8.8" letter-spacing="0.25">25 ng/mL EGF</text>
<text class="bs" x="231.6" y="401.0" font-size="12.4" text-anchor="middle">*</text>
<text class="bs" x="243.5" y="378.1" font-size="12.4" text-anchor="middle" letter-spacing="0.7">**</text>
<text class="b" x="252.6" y="352.7" font-size="8.6" text-anchor="middle">#</text>
<text class="bs" x="281.7" y="405.3" font-size="12.4" text-anchor="middle">*</text>
<text class="bs" x="292.4" y="391.3" font-size="12.4" text-anchor="middle" letter-spacing="0.7">**</text>
<text class="b" x="302.7" y="339.1" font-size="8.6" text-anchor="middle">#</text>
<text class="b" font-size="9.2" text-anchor="middle" transform="translate(136.3,384.6) rotate(-90)">relative phosphorylation</text>
<text class="b" font-size="9.2" text-anchor="middle" transform="translate(145.3,384.6) rotate(-90)">levels</text>
<path d="M367.10 333.30L367.10 434.10" stroke="#000" stroke-width="1.3" fill="none"/>
<path d="M366.50 433.50L518.40 433.50" stroke="#000" stroke-width="1.3" fill="none"/>
<path d="M364.10 433.50L367.10 433.50" stroke="#000" stroke-width="1.1" fill="none"/>
<text class="b" x="361.3" y="436.6" font-size="9.4" text-anchor="end" style="stroke:#000;stroke-width:.15px">0</text>
<path d="M365.30 425.20L367.10 425.20" stroke="#000" stroke-width="0.9" fill="none"/>
<path d="M364.10 416.90L367.10 416.90" stroke="#000" stroke-width="1.1" fill="none"/>
<text class="b" x="361.3" y="420.0" font-size="9.4" text-anchor="end" style="stroke:#000;stroke-width:.15px">1</text>
<path d="M365.30 408.60L367.10 408.60" stroke="#000" stroke-width="0.9" fill="none"/>
<path d="M364.10 400.30L367.10 400.30" stroke="#000" stroke-width="1.1" fill="none"/>
<text class="b" x="361.3" y="403.4" font-size="9.4" text-anchor="end" style="stroke:#000;stroke-width:.15px">2</text>
<path d="M365.30 392.00L367.10 392.00" stroke="#000" stroke-width="0.9" fill="none"/>
<path d="M364.10 383.70L367.10 383.70" stroke="#000" stroke-width="1.1" fill="none"/>
<text class="b" x="361.3" y="386.8" font-size="9.4" text-anchor="end" style="stroke:#000;stroke-width:.15px">3</text>
<path d="M365.30 375.40L367.10 375.40" stroke="#000" stroke-width="0.9" fill="none"/>
<path d="M364.10 367.10L367.10 367.10" stroke="#000" stroke-width="1.1" fill="none"/>
<text class="b" x="361.3" y="370.2" font-size="9.4" text-anchor="end" style="stroke:#000;stroke-width:.15px">4</text>
<path d="M365.30 358.80L367.10 358.80" stroke="#000" stroke-width="0.9" fill="none"/>
<path d="M364.10 350.50L367.10 350.50" stroke="#000" stroke-width="1.1" fill="none"/>
<text class="b" x="361.3" y="353.6" font-size="9.4" text-anchor="end" style="stroke:#000;stroke-width:.15px">5</text>
<path d="M365.30 342.20L367.10 342.20" stroke="#000" stroke-width="0.9" fill="none"/>
<path d="M364.10 333.90L367.10 333.90" stroke="#000" stroke-width="1.1" fill="none"/>
<text class="b" x="361.3" y="337.0" font-size="9.4" text-anchor="end" style="stroke:#000;stroke-width:.15px">6</text>
<path d="M391.70 433.50L391.70 436.30" stroke="#000" stroke-width="1.0" fill="none"/>
<path d="M441.90 433.50L441.90 436.30" stroke="#000" stroke-width="1.0" fill="none"/>
<path d="M491.70 433.50L491.70 436.30" stroke="#000" stroke-width="1.0" fill="none"/>
<rect x="372.10" y="417.30" width="6.70" height="16.20" fill="#fff" stroke="#000" stroke-width="0.8"/>
<path d="M386.55 413.25L386.55 408.43" stroke="#000" stroke-width="1.4" fill="none"/>
<path d="M384.15 408.63L388.95 408.63" stroke="#000" stroke-width="1.5" fill="none"/>
<rect x="383.20" y="413.65" width="6.70" height="19.85" fill="url(#chkR)" stroke="#000" stroke-width="0.8"/>
<path d="M397.35 410.92L397.35 405.94" stroke="#000" stroke-width="1.4" fill="none"/>
<path d="M394.95 406.14L399.75 406.14" stroke="#000" stroke-width="1.5" fill="none"/>
<rect x="394.00" y="411.32" width="6.70" height="22.18" fill="url(#hatR)" stroke="#000" stroke-width="0.8"/>
<path d="M408.15 389.18L408.15 371.75" stroke="#000" stroke-width="1.4" fill="none"/>
<path d="M405.75 371.95L410.55 371.95" stroke="#000" stroke-width="1.5" fill="none"/>
<rect x="404.80" y="389.58" width="6.70" height="43.92" fill="#000" stroke="#000" stroke-width="0.8"/>
<rect x="422.70" y="417.30" width="6.70" height="16.20" fill="#fff" stroke="#000" stroke-width="0.8"/>
<path d="M436.75 395.98L436.75 390.51" stroke="#000" stroke-width="1.4" fill="none"/>
<path d="M434.35 390.71L439.15 390.71" stroke="#000" stroke-width="1.5" fill="none"/>
<rect x="433.40" y="396.38" width="6.70" height="37.12" fill="url(#chkR)" stroke="#000" stroke-width="0.8"/>
<path d="M447.55 377.23L447.55 364.78" stroke="#000" stroke-width="1.4" fill="none"/>
<path d="M445.15 364.98L449.95 364.98" stroke="#000" stroke-width="1.5" fill="none"/>
<rect x="444.20" y="377.63" width="6.70" height="55.87" fill="url(#hatR)" stroke="#000" stroke-width="0.8"/>
<path d="M458.55 389.18L458.55 377.06" stroke="#000" stroke-width="1.4" fill="none"/>
<path d="M456.15 377.26L460.95 377.26" stroke="#000" stroke-width="1.5" fill="none"/>
<rect x="455.20" y="389.58" width="6.70" height="43.92" fill="#000" stroke="#000" stroke-width="0.8"/>
<rect x="472.90" y="417.30" width="6.70" height="16.20" fill="#fff" stroke="#000" stroke-width="0.8"/>
<path d="M487.35 428.02L487.35 427.19" stroke="#000" stroke-width="1.4" fill="none"/>
<path d="M484.95 427.39L489.75 427.39" stroke="#000" stroke-width="1.5" fill="none"/>
<rect x="484.00" y="428.42" width="6.70" height="5.08" fill="url(#chkR)" stroke="#000" stroke-width="0.8"/>
<path d="M498.05 428.02L498.05 427.19" stroke="#000" stroke-width="1.4" fill="none"/>
<path d="M495.65 427.39L500.45 427.39" stroke="#000" stroke-width="1.5" fill="none"/>
<rect x="494.70" y="428.42" width="6.70" height="5.08" fill="url(#hatR)" stroke="#000" stroke-width="0.8"/>
<path d="M508.85 403.95L508.85 396.81" stroke="#000" stroke-width="1.4" fill="none"/>
<path d="M506.45 397.01L511.25 397.01" stroke="#000" stroke-width="1.5" fill="none"/>
<rect x="505.50" y="404.35" width="6.70" height="29.15" fill="#000" stroke="#000" stroke-width="0.8"/>
<text class="b" x="393.0" y="446.5" font-size="8.6" text-anchor="middle">Akt</text>
<text class="b" x="442.0" y="446.5" font-size="8.6" text-anchor="middle" fill="#505050" style="stroke:#505050">GSK</text>
<text class="b" x="495.4" y="446.5" font-size="8.6" text-anchor="middle">ERK1/2</text>
<clipPath id="c14"><rect x="369.30" y="334.70" width="15.4" height="5.70"/></clipPath>
<rect x="369.30" y="334.70" width="15.4" height="5.70" fill="#fff"/>
<rect x="369.75" y="335.15" width="14.5" height="4.80" fill="none" stroke="#000" stroke-width="0.9"/>
<text class="r" x="389.8" y="340.2" font-size="8.8">-</text>
<clipPath id="c15"><rect x="369.30" y="342.20" width="15.4" height="5.10"/></clipPath>
<rect x="369.30" y="342.20" width="15.4" height="5.10" fill="#fff"/>
<g clip-path="url(#c15)"><path d="M369.3 342h2.1v6h-2.1zM377.9 342h7v6h-7z"/></g>
<rect x="369.75" y="342.65" width="14.5" height="4.20" fill="none" stroke="#000" stroke-width="0.9"/>
<text class="r" x="385.8" y="347.4" font-size="8.8" letter-spacing="0.25">20 nmol/L GLP-2</text>
<clipPath id="c16"><rect x="369.30" y="350.10" width="15.4" height="6.20"/></clipPath>
<rect x="369.30" y="350.10" width="15.4" height="6.20" fill="#fff"/>
<g clip-path="url(#c16)"><path d="M368.3 349.6L376.3 356.8M380.3 349.2L385.7 353.8" stroke="#000" stroke-width="2.4"/></g>
<rect x="369.75" y="350.55" width="14.5" height="5.30" fill="none" stroke="#000" stroke-width="0.9"/>
<text class="r" x="385.8" y="356.4" font-size="8.8" letter-spacing="0.25">10 µmol/L Fsk</text>
<clipPath id="c17"><rect x="369.30" y="358.00" width="15.4" height="5.60"/></clipPath>
<rect x="369.30" y="358.00" width="15.4" height="5.60" fill="#000"/>
<rect x="369.75" y="358.45" width="14.5" height="4.70" fill="none" stroke="#000" stroke-width="0.9"/>
<text class="r" x="385.8" y="363.7" font-size="8.8" letter-spacing="0.25">25 ng/mL EGF</text>
<text class="bs" x="436.8" y="392.0" font-size="12.4" text-anchor="middle">*</text>
<text class="bs" x="448.9" y="368.3" font-size="12.4" text-anchor="middle" letter-spacing="0.7">**</text>
<text class="bs" x="459.1" y="379.7" font-size="12.4" text-anchor="middle">*</text>
<text class="bs" x="487.4" y="429.8" font-size="12.4" text-anchor="middle">*</text>
<text class="bs" x="498.6" y="429.5" font-size="12.4" text-anchor="middle">*</text>
<text class="bs" x="509.0" y="398.9" font-size="12.4" text-anchor="middle">*</text>
<text class="b" font-size="9.2" text-anchor="middle" transform="translate(343.4,384.7) rotate(-90)">relative phosphorylation</text>
<text class="b" font-size="9.2" text-anchor="middle" transform="translate(352.4,384.7) rotate(-90)">levels</text>
</g>
</svg></body></html>
